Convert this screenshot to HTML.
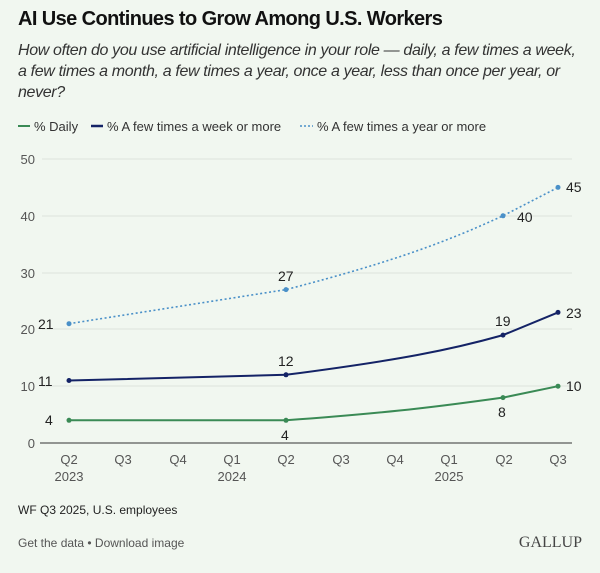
<!DOCTYPE html>
<html><head><style>
body{margin:0;background:#f1f7f0;font-family:"Liberation Sans",sans-serif;}
.w{width:600px;height:573px;position:relative;overflow:hidden;background:#f1f7f0}
h1{position:absolute;left:18px;top:8px;margin:0;font-size:20px;font-weight:bold;color:#111;letter-spacing:-0.6px;white-space:nowrap}
.sub{position:absolute;left:18px;top:40px;width:590px;font-size:16px;font-style:italic;color:#333;line-height:21px;white-space:nowrap;letter-spacing:-0.35px}
</style></head><body><div class="w">
<h1>AI Use Continues to Grow Among U.S. Workers</h1>
<div class="sub">How often do you use artificial intelligence in your role — daily, a few times a week,<br>a few times a month, a few times a year, once a year, less than once per year, or<br>never?</div>
<svg width="600" height="573" style="position:absolute;left:0;top:0" font-family="Liberation Sans, sans-serif">
<g font-size="13" fill="#333">
<line x1="18" y1="126" x2="30" y2="126" stroke="#3a8a55" stroke-width="2"/><text x="34" y="131">% Daily</text>
<line x1="91" y1="126" x2="103" y2="126" stroke="#142366" stroke-width="2.5"/><text x="107" y="131">% A few times a week or more</text>
<line x1="300" y1="126" x2="313" y2="126" stroke="#4a90c8" stroke-width="1.5" stroke-dasharray="2,2"/><text x="317" y="131">% A few times a year or more</text>
</g>
<g stroke="#dde3dc" stroke-width="1">
<line x1="42" y1="159" x2="572" y2="159"/><line x1="42" y1="216" x2="572" y2="216"/><line x1="42" y1="273" x2="572" y2="273"/><line x1="42" y1="329" x2="572" y2="329"/><line x1="42" y1="386" x2="572" y2="386"/>
</g>
<line x1="40" y1="443" x2="572" y2="443" stroke="#333" stroke-width="1"/>
<g font-size="13" fill="#555" text-anchor="end">
<text x="35" y="164">50</text><text x="35" y="221">40</text><text x="35" y="278">30</text><text x="35" y="334">20</text><text x="35" y="391">10</text><text x="35" y="448">0</text>
</g>
<g font-size="13" fill="#555" text-anchor="middle">
<text x="69" y="464">Q2</text><text x="123" y="464">Q3</text><text x="178" y="464">Q4</text><text x="232" y="464">Q1</text><text x="286" y="464">Q2</text><text x="341" y="464">Q3</text><text x="395" y="464">Q4</text><text x="449" y="464">Q1</text><text x="504" y="464">Q2</text><text x="558" y="464">Q3</text>
<text x="69" y="481">2023</text><text x="232" y="481">2024</text><text x="449" y="481">2025</text>
</g>
<path d="M69,420.3 L286,420.3 C400,412 450,405 503,397.6 L558,386.2" fill="none" stroke="#3a8a55" stroke-width="2"/>
<path d="M69,380.5 L286,374.8 C400,360 450,350 503,335.1 L558,312.4" fill="none" stroke="#142366" stroke-width="2"/>
<path d="M69,323.7 L286,289.6 C400,260 450,240 503,215.8 L558,187.4" fill="none" stroke="#4a90c8" stroke-width="1.6" stroke-dasharray="2,2.5"/>
<g fill="#3a8a55"><circle cx="69" cy="420.3" r="2.5"/><circle cx="286" cy="420.3" r="2.5"/><circle cx="503" cy="397.6" r="2.5"/><circle cx="558" cy="386.2" r="2.5"/></g>
<g fill="#142366"><circle cx="69" cy="380.5" r="2.5"/><circle cx="286" cy="374.8" r="2.5"/><circle cx="503" cy="335.1" r="2.5"/><circle cx="558" cy="312.4" r="2.5"/></g>
<g fill="#4a90c8"><circle cx="69" cy="323.7" r="2.5"/><circle cx="286" cy="289.6" r="2.5"/><circle cx="503" cy="215.8" r="2.5"/><circle cx="558" cy="187.4" r="2.5"/></g>
<g font-size="14" fill="#222">
<text x="45" y="425">4</text><text x="281" y="440">4</text><text x="498" y="417">8</text><text x="566" y="391">10</text>
<text x="38" y="386">11</text><text x="278" y="366">12</text><text x="495" y="326">19</text><text x="566" y="318">23</text>
<text x="38" y="329">21</text><text x="278" y="281">27</text><text x="517" y="222">40</text><text x="566" y="192">45</text>
</g>
<text x="18" y="514" font-size="12" fill="#222">WF Q3 2025, U.S. employees</text>
<text x="18" y="547" font-size="12" fill="#555">Get the data • Download image</text>
<text x="582" y="547" font-size="16" fill="#444" text-anchor="end" font-family="Liberation Serif, serif">GALLUP</text>
</svg>
</div></body></html>
